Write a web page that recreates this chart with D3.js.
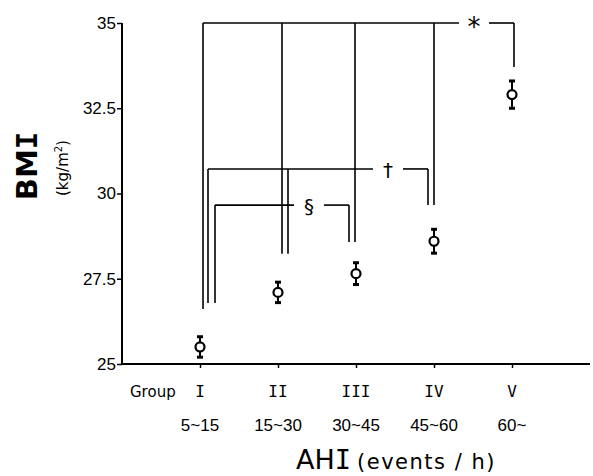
<!DOCTYPE html>
<html>
<head>
<meta charset="utf-8">
<script src="https://cdn.jsdelivr.net/npm/d3@7"></script>
<style>
  body { margin: 0; background: #fff; }
  text { fill: #000; }
</style>
</head>
<body>
<div id="maincontent"></div>
<script>
// data
var groups = ["I", "II", "III", "IV", "V"];
var ahiRanges = ["5~15", "15~30", "30~45", "45~60", "60~"];
var bmiMean = [25.5, 27.1, 27.65, 28.6, 32.9];
var bmiErr = [0.3, 0.3, 0.32, 0.35, 0.4];
var yTicks = [25, 27.5, 30, 32.5, 35];

// significance brackets: right group, top level (BMI), label, compared groups and where their legs stop
var sigTarget = [4, 3, 2];
var sigLevel = [35, 30.72, 29.66];
var sigLabel = ["*", "\u2020", "\u00a7"];
var sigLegs = [
  [[0, 26.61, 3], [1, 28.23, 4], [2, 28.58, -1], [3, 29.66, 0], [4, 33.71, 2]],
  [[0, 26.79, 8], [1, 28.23, 10], [3, 29.66, -6]],
  [[0, 26.79, 15], [2, 28.58, -7]]
];

var w = 593, h = 476;

var svg = d3.select("#maincontent")
  .append("svg")
  .attr("width", w)
  .attr("height", h);

var x = d3.scaleLinear().domain([-1, 5]).range([122, 590]);
var y = d3.scaleLinear().domain([25, 35]).range([364, 23]);

// axes
var yAxis = svg.append("g")
  .attr("transform", "translate(" + x(-1) + ",0)")
  .call(d3.axisLeft(y).tickValues(yTicks).tickFormat(d3.format("")).tickSize(5).tickPadding(1));
yAxis.select(".domain").attr("d", "M0," + y(35) + "V" + y(25)).attr("stroke-width", 2);
yAxis.selectAll(".tick line").attr("stroke-width", 1.5);
yAxis.selectAll("text")
  .attr("font-family", "Liberation Sans, Arial, sans-serif")
  .attr("font-size", "17px");

var xAxis = svg.append("g")
  .attr("transform", "translate(0," + y(25) + ")")
  .call(d3.axisBottom(x).tickValues(d3.range(groups.length)).tickFormat("").tickSize(4));
xAxis.select(".domain").attr("d", "M" + x(-1) + ",0H" + x(5)).attr("stroke-width", 2);
xAxis.selectAll(".tick line").attr("stroke-width", 1.5);

// category labels
svg.append("text")
  .attr("x", 130).attr("y", 397)
  .attr("font-family", "DejaVu Sans, sans-serif")
  .attr("font-size", "15px")
  .text("Group");

svg.selectAll("text.grp")
  .data(groups)
  .enter()
  .append("text")
  .attr("class", "grp")
  .attr("x", function(d, i) { return x(i); })
  .attr("y", 397)
  .attr("text-anchor", "middle")
  .attr("font-family", "DejaVu Sans Mono, monospace")
  .attr("font-size", "16px")
  .text(function(d) { return d; });

svg.selectAll("text.ahi")
  .data(ahiRanges)
  .enter()
  .append("text")
  .attr("class", "ahi")
  .attr("x", function(d, i) { return x(i); })
  .attr("y", 431)
  .attr("text-anchor", "middle")
  .attr("font-family", "Liberation Sans, Arial, sans-serif")
  .attr("font-size", "17px")
  .text(function(d) { return d; });

// axis titles
var xt = svg.append("text")
  .attr("x", 296).attr("y", 469)
  .attr("font-family", "DejaVu Sans, sans-serif");
xt.append("tspan").attr("font-size", "27px").text("AH");
xt.append("tspan").attr("font-size", "27px").attr("font-family", "DejaVu Sans Mono, monospace").text("I");
xt.append("tspan").attr("font-size", "21px").attr("dx", 6).attr("letter-spacing", "1.5px").text("(events / h)");

var yt = svg.append("text")
  .attr("transform", "translate(37,166) rotate(-90)")
  .attr("text-anchor", "middle")
  .attr("font-family", "DejaVu Sans, sans-serif")
  .attr("font-weight", "bold")
  .attr("font-size", "29px");
yt.append("tspan").text("BM");
yt.append("tspan").attr("font-family", "DejaVu Sans Mono, monospace").text("I");

var yu = svg.append("text")
  .attr("transform", "translate(68,168) rotate(-90)")
  .attr("text-anchor", "middle")
  .attr("font-family", "DejaVu Sans, sans-serif")
  .attr("font-size", "15px");
yu.append("tspan").text("(kg/m");
yu.append("tspan").attr("font-size", "10px").attr("dy", -6).text("2");
yu.append("tspan").attr("dy", 6).text(")");

// brackets
var br = svg.append("g")
  .attr("fill", "none")
  .attr("stroke", "#000")
  .attr("stroke-width", 1.6);

sigTarget.forEach(function(t, k) {
  var legs = sigLegs[k];
  var yTop = y(sigLevel[k]);
  var xl = x(legs[0][0]) + legs[0][2];
  var last = legs[legs.length - 1];
  var xr = x(last[0]) + last[2];
  var lx = xr - 40;
  br.append("line").attr("x1", xl).attr("x2", lx - 15).attr("y1", yTop).attr("y2", yTop);
  br.append("line").attr("x1", lx + 15).attr("x2", xr).attr("y1", yTop).attr("y2", yTop);
  legs.forEach(function(l) {
    var xx = x(l[0]) + l[2];
    br.append("line").attr("x1", xx).attr("x2", xx).attr("y1", yTop).attr("y2", y(l[1]));
  });
  svg.append("text")
    .attr("x", lx).attr("y", yTop + (k == 0 ? 13 : 8))
    .attr("text-anchor", "middle")
    .attr("font-family", "DejaVu Sans, sans-serif")
    .attr("font-size", k == 0 ? "26px" : "20px")
    .text(sigLabel[k]);
});

// error bars and points
var pts = svg.selectAll("g.pt")
  .data(bmiMean)
  .enter()
  .append("g")
  .attr("class", "pt")
  .attr("stroke", "#000");

pts.append("line")
  .attr("x1", function(d, i) { return x(i); })
  .attr("x2", function(d, i) { return x(i); })
  .attr("y1", function(d, i) { return y(d + bmiErr[i]); })
  .attr("y2", function(d, i) { return y(d - bmiErr[i]); })
  .attr("stroke-width", 2);
pts.append("line")
  .attr("x1", function(d, i) { return x(i) - 3; })
  .attr("x2", function(d, i) { return x(i) + 3; })
  .attr("y1", function(d, i) { return y(d + bmiErr[i]); })
  .attr("y2", function(d, i) { return y(d + bmiErr[i]); })
  .attr("stroke-width", 3);
pts.append("line")
  .attr("x1", function(d, i) { return x(i) - 3; })
  .attr("x2", function(d, i) { return x(i) + 3; })
  .attr("y1", function(d, i) { return y(d - bmiErr[i]); })
  .attr("y2", function(d, i) { return y(d - bmiErr[i]); })
  .attr("stroke-width", 3);
pts.append("circle")
  .attr("cx", function(d, i) { return x(i); })
  .attr("cy", function(d) { return y(d); })
  .attr("r", 4.5)
  .attr("fill", "#fff")
  .attr("stroke-width", 2.2);
</script>
</body>
</html>
